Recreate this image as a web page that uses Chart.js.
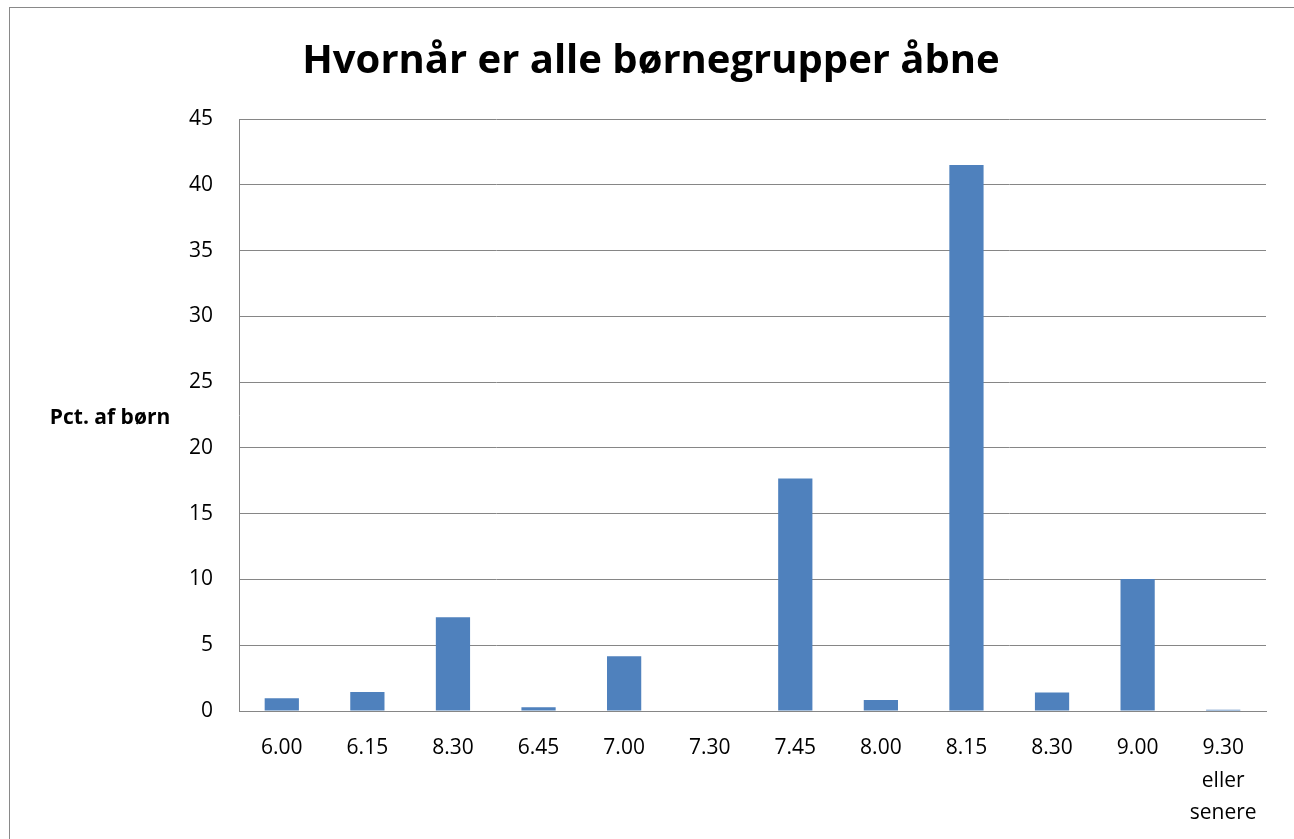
<!DOCTYPE html>
<html>
<head>
<meta charset="utf-8">
<script src="https://cdn.jsdelivr.net/npm/chart.js@4.4.0/dist/chart.umd.min.js"></script>
<style>
  body { margin: 0; background: #fff; overflow: hidden; }
  #ramme { position: absolute; left: 9px; top: 7px; width: 1290px; height: 900px; border: 1px solid #898989; }
  #graf { position: absolute; left: 0; top: 0; }
</style>
</head>
<body>
<div id="ramme"></div>
<canvas id="graf" width="1294" height="839"></canvas>
<script>
var tider = ["6.00", "6.15", "8.30", "6.45", "7.00", "7.30", "7.45", "8.00", "8.15", "8.30", "9.00", ["9.30", "eller", "senere"]];
var pctBoern = [0.97, 1.44, 7.12, 0.28, 4.16, 0.04, 17.68, 0.84, 41.5, 1.4, 10.03, 0.1];
var yTicks = [0, 5, 10, 15, 20, 25, 30, 35, 40, 45];

var skrift = "'Open Sans', 'Noto Sans', sans-serif";

// aksetitel vandret til venstre, som i Excel
var yTitel = {
    id: 'yTitel',
    afterDraw: function (chart) {
        var ctx = chart.ctx;
        ctx.save();
        ctx.font = "bold 21px " + skrift;
        ctx.fillStyle = "#000";
        ctx.textAlign = "center";
        ctx.textBaseline = "middle";
        ctx.fillText("Pct. af børn", 110, 418);
        ctx.restore();
    }
};

var graf = new Chart(document.getElementById('graf'), {
    type: 'bar',
    data: {
        labels: tider,
        datasets: [{
            data: pctBoern,
            backgroundColor: '#4F81BD',
            borderWidth: 0,
            categoryPercentage: 1,
            barPercentage: 0.4
        }]
    },
    options: {
        responsive: false,
        animation: false,
        layout: { padding: { left: 36, right: 28, top: 0, bottom: 0 } },
        plugins: {
            legend: { display: false },
            tooltip: { enabled: false },
            title: {
                display: true,
                text: 'Hvornår er alle børnegrupper åbne',
                color: '#000',
                font: { family: skrift, size: 40, weight: 'bold', lineHeight: 1.2 },
                padding: { top: 38, bottom: 33 }
            }
        },
        scales: {
            x: {
                grid: { display: false, drawTicks: false },
                border: { display: true, color: '#868686', width: 1 },
                ticks: {
                    color: '#000',
                    font: { family: skrift, size: 21, lineHeight: 1.55 },
                    padding: 21,
                    maxRotation: 0,
                    autoSkip: false
                },
                afterFit: function (s) { s.height = 128; }
            },
            y: {
                min: 0,
                max: 45,
                afterBuildTicks: function (s) { s.ticks = yTicks.map(function (v) { return { value: v }; }); },
                grid: { color: '#868686', drawTicks: false },
                border: { display: true, color: '#868686', width: 1 },
                ticks: {
                    color: '#000',
                    font: { family: skrift, size: 21 },
                    padding: 26
                },
                afterFit: function (s) { s.width = 203; }
            }
        }
    },
    plugins: [yTitel]
});
</script>
</body>
</html>
